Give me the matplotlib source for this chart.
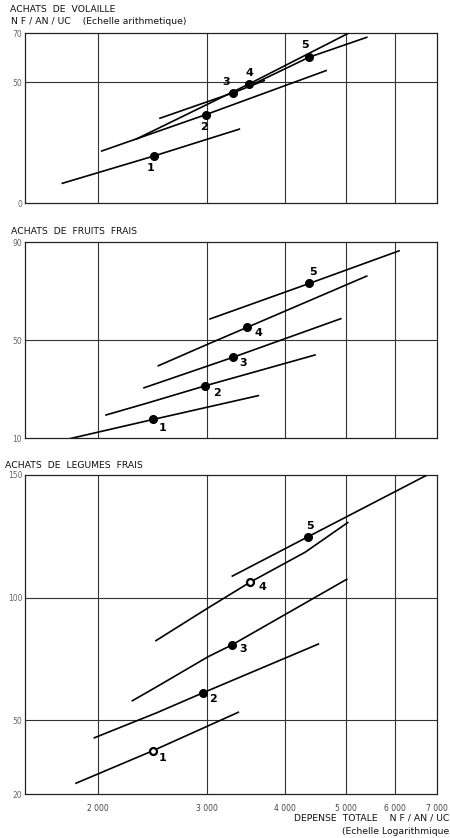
import matplotlib
matplotlib.use('Agg')
import matplotlib.pyplot as plt
import numpy as np

# depense totale (NF/an/UC), echelle log
x_ticks = [2000, 3000, 4000, 5000, 6000, 7000]
x_tick_labels = ['2 000', '3 000', '4 000', '5 000', '6 000', '7 000']

groupes = ['1', '2', '3', '4', '5']

# volaille : courbes (x, y) et point moyen de chaque groupe
volaille_x = [[1756, 2466, 3375], [2031, 2984, 4648], [2518, 3301, 3700],
              [2311, 3498, 5041], [3576, 4365, 5401]]
volaille_y = [[8.3, 19.6, 30.6], [21.6, 36.6, 54.7], [35.1, 45.6, 50.6],
              [26.6, 49.2, 70.0], [49.5, 60.2, 68.4]]
volaille_pt_x = [2466, 2984, 3301, 3498, 4365]
volaille_pt_y = [19.6, 36.6, 45.6, 49.2, 60.2]

# fruits frais
fruits_x = [[1795, 2457, 3620], [2063, 2398, 2974, 4463], [2374, 3293, 4907],
            [2503, 3029, 3476, 5401], [3029, 4370, 6085]]
fruits_y = [[9.6, 17.6, 27.3], [19.4, 24.2, 31.3, 43.9], [30.5, 42.9, 58.7],
            [39.5, 48.7, 55.2, 76.1], [58.6, 73.1, 86.4]]
fruits_pt_x = [2457, 2974, 3293, 3476, 4370]
fruits_pt_y = [17.6, 31.3, 42.9, 55.2, 73.1]

# legumes frais
legumes_x = [[1847, 2451, 3362], [1976, 2488, 2955, 4518], [2274, 2488, 3010, 3281, 5017],
             [2481, 3010, 3511, 4301, 5035], [3289, 4354, 6715]]
legumes_y = [[24.4, 37.6, 53.3], [42.9, 53.1, 61.3, 81.1], [58.0, 63.7, 76.0, 80.7, 107.5],
             [82.5, 95.9, 106.3, 118.5, 130.6], [108.8, 124.9, 149.7]]
legumes_pt_x = [2451, 2955, 3281, 3511, 4354]
legumes_pt_y = [37.6, 61.3, 80.7, 106.3, 124.9]

# position des numeros (pixels par rapport au point)
volaille_off = [(-4, -12), (-2, -12), (-7, 11), (0, 11), (-4, 12)]
fruits_off = [(9, -9), (12, -7), (10, -6), (11, -6), (4, 11)]
legumes_off = [(10, -7), (10, -6), (11, -4), (12, -5), (2, 11)]


def panel(ax, xs, ys, px, py, offs, yticks, ylim, open_pts=()):
    ax.set_xscale('log')
    ax.set_xlim(1530, 7000)
    ax.set_ylim(*ylim)
    ax.minorticks_off()
    for xv in x_ticks[:-1]:
        ax.axvline(xv, color='#333333', lw=0.8, zorder=1)
    for yv in yticks[1:-1]:
        ax.axhline(yv, color='#333333', lw=0.8, zorder=1)
    for i in range(len(xs)):
        ax.plot(xs[i], ys[i], color='black', lw=1.2, zorder=3)
        if i in open_pts:
            ax.plot(px[i], py[i], 'o', ms=5, mfc='white', mec='black', mew=1.6, zorder=4)
        else:
            ax.plot(px[i], py[i], 'o', ms=5.5, color='black', zorder=4)
        dx, dy = offs[i]
        ax.annotate(groupes[i], (px[i], py[i]), xytext=(dx * 0.72, dy * 0.72),
                    textcoords='offset points', ha='center', va='center',
                    fontsize=8, fontweight='bold', zorder=5)
    ax.set_yticks(yticks)
    ax.set_yticklabels([str(v) for v in yticks], fontsize=5.5, color='#666666')
    ax.set_xticks(x_ticks)
    ax.set_xticklabels([])
    ax.tick_params(length=0, pad=2)
    for s in ax.spines.values():
        s.set_linewidth(0.9)
        s.set_color('#222222')


fig = plt.figure(figsize=(4.5, 8.38), dpi=100)
W = 412 / 450
L = 25 / 450

ax1 = fig.add_axes([L, 0.7572, W, 0.2029])
panel(ax1, volaille_x, volaille_y, volaille_pt_x, volaille_pt_y, volaille_off,
      [0, 50, 70], (0, 70))
ax2 = fig.add_axes([L, 0.4773, W, 0.2339])
panel(ax2, fruits_x, fruits_y, fruits_pt_x, fruits_pt_y, fruits_off,
      [10, 50, 90], (10, 90))
ax3 = fig.add_axes([L, 0.0525, W, 0.3807])
panel(ax3, legumes_x, legumes_y, legumes_pt_x, legumes_pt_y, legumes_off,
      [20, 50, 100, 150], (20, 150), open_pts=(0, 3))
ax3.set_xticklabels(x_tick_labels, fontsize=5.5, color='#444444')
ax3.tick_params(axis='x', pad=7)

# titres
def ftxt(x, y, s, **kw):
    fig.text(x / 450, 1 - y / 838, s, va='center', fontsize=6.7, color='#111111', **kw)

ftxt(10, 10, 'ACHATS  DE  VOLAILLE')
ftxt(11, 22, 'N F / AN / UC    (Echelle arithmetique)')
ftxt(11, 232, 'ACHATS  DE  FRUITS  FRAIS')
ftxt(5, 465, 'ACHATS  DE  LEGUMES  FRAIS')
ftxt(449, 818, 'DEPENSE  TOTALE    N F / AN / UC', ha='right')
ftxt(449, 831, '(Echelle Logarithmique', ha='right')

fig.savefig('out.png', dpi=100, facecolor='white')
